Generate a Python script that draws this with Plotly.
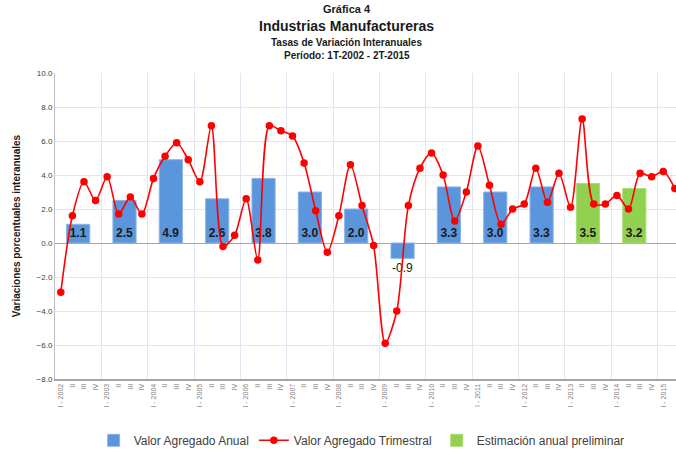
import plotly.graph_objects as go

# ---------------- data ----------------
years = list(range(2002, 2016))
quarter_names = ["I", "II", "III", "IV"]

# Quarterly year-on-year growth (Valor Agregado Trimestral), 1T-2002 .. 2T-2015
quarterly = [
    -2.9, 1.6, 3.6, 2.5,     # 2002
    3.9, 1.7, 2.7, 1.7,      # 2003
    3.8, 5.1, 5.9, 4.9,      # 2004
    3.6, 6.9, -0.2, 0.45,    # 2005
    2.6, -1.0, 6.9, 6.6,     # 2006
    6.3, 4.7, 1.9, -0.55,    # 2007
    1.6, 4.6, 2.2, -0.15,    # 2008
    -5.9, -4.0, 2.2, 4.4,    # 2009
    5.3, 4.0, 1.3, 3.0,      # 2010
    5.7, 3.4, 1.1, 2.0,      # 2011
    2.3, 4.4, 2.4, 4.1,      # 2012
    2.1, 7.3, 2.3, 2.3,      # 2013
    2.8, 2.0, 4.1, 3.9,      # 2014
    4.2, 3.2,                # 2015
]

# Annual value added (blue) and preliminary estimates (green)
annual_years = [2002, 2003, 2004, 2005, 2006, 2007, 2008, 2009, 2010, 2011, 2012]
annual_values = [1.1, 2.5, 4.9, 2.6, 3.8, 3.0, 2.0, -0.9, 3.3, 3.0, 3.3]
prelim_years = [2013, 2014]
prelim_values = [3.5, 3.2]

# tick labels
tick_labels = []
for y in years:
    for q in quarter_names:
        tick_labels.append(f"{q} - {y}" if q == "I" else q)
tick_labels = tick_labels[:len(quarterly)]

y_ticks = [10, 8, 6, 4, 2, 0, -2, -4, -6, -8]

# ---------------- positions (category index) ----------------
q_index = list(range(len(quarterly)))
annual_x = [(y - 2002) * 4 + 1.5 for y in annual_years]
prelim_x = [(y - 2002) * 4 + 1.5 for y in prelim_years]

BLUE = "#5b95dc"
GREEN = "#92d050"
RED = "#ff0000"
label_font = "Liberation Sans Narrow, Arial Narrow, Liberation Sans, Arial"

fig = go.Figure()

fig.add_trace(go.Bar(
    x=annual_x, y=annual_values, width=2,
    name="Valor Agregado Anual",
    marker=dict(color=BLUE, line=dict(color="#8db3e6", width=1)),
    text=[f"{v:.1f}" for v in annual_values],
    textposition=["inside" if v >= 0 else "outside" for v in annual_values],
    insidetextanchor="start",
    textangle=0,
    constraintext="none",
    cliponaxis=False,
    textfont=dict(family=label_font, size=12, color="#1a1a1a",
                  weight=["bold" if v >= 0 else "normal" for v in annual_values]),
))

fig.add_trace(go.Scatter(
    x=q_index, y=quarterly,
    name="Valor Agregado Trimestral",
    mode="lines+markers",
    line=dict(color=RED, width=1.6, shape="spline", smoothing=0.8),
    marker=dict(color=RED, size=7.5),
))

fig.add_trace(go.Bar(
    x=prelim_x, y=prelim_values, width=2,
    name="Estimación anual preliminar",
    marker=dict(color=GREEN, line=dict(color="#a9dc78", width=1)),
    text=[f"{v:.1f}" for v in prelim_values],
    textposition="inside",
    insidetextanchor="start",
    textangle=0,
    constraintext="none",
    textfont=dict(family=label_font, size=12, color="#1a1a1a", weight="bold"),
))

title_font = "Liberation Sans, Arial"
titles = [
    ("Gráfica 4", 11, 1.209),
    ("Industrias Manufactureras", 14, 1.152),
    ("Tasas de Variación Interanuales", 10, 1.101),
    ("Período: 1T-2002 - 2T-2015", 10, 1.056),
]
annotations = []
for txt, sz, yy in titles:
    annotations.append(dict(
        text=f"<b>{txt}</b>", x=0.47, y=yy, xref="paper", yref="paper",
        showarrow=False, xanchor="center", yanchor="middle",
        font=dict(family=title_font, size=sz, color="#1a1a1a"),
    ))

fig.update_layout(
    width=676, height=453,
    margin=dict(l=55, r=0, t=73, b=74, autoexpand=False),
    paper_bgcolor="white", plot_bgcolor="white",
    barmode="overlay",
    showlegend=True,
    legend=dict(
        orientation="h", x=0.535, xref="container", xanchor="center",
        y=0.028, yref="container", yanchor="middle",
        font=dict(family="Liberation Sans, Arial", size=12, color="#404040"),
        itemwidth=30,
    ),
    annotations=annotations,
    xaxis=dict(
        range=[-0.5, 53.1],
        automargin=False,
        tickmode="array", tickvals=q_index, ticktext=tick_labels,
        tickangle=-90,
        tickfont=dict(family="Liberation Sans, Arial", size=7, color="#7f7f7f"),
        showgrid=False,
        ticks="",
        showline=True, linecolor="#a6a6a6", linewidth=2,
        minor=dict(tick0=-0.5, dtick=4, showgrid=True, gridcolor="#dde6f1", gridwidth=1),
        zeroline=False,
    ),
    yaxis=dict(
        range=[-8, 10],
        automargin=False,
        tickmode="array", tickvals=y_ticks,
        tickformat=".1f",
        tickfont=dict(family="Liberation Sans, Arial", size=8, color="#404040"),
        showgrid=True, gridcolor="#dde6f1", gridwidth=1,
        zeroline=True, zerolinecolor="#a6a6a6", zerolinewidth=1,
        showline=True, linecolor="#bfbfbf", linewidth=1,
        ticks="", ticklen=0,
        title=dict(text="<b>Variaciones porcentuales interanuales</b>",
                   font=dict(family="Liberation Sans, Arial", size=10, color="#1a1a1a"),
                   standoff=14),
    ),
)

fig.write_html("out.html", config={"displayModeBar": False},
               post_script="document.body.style.margin='0';")
